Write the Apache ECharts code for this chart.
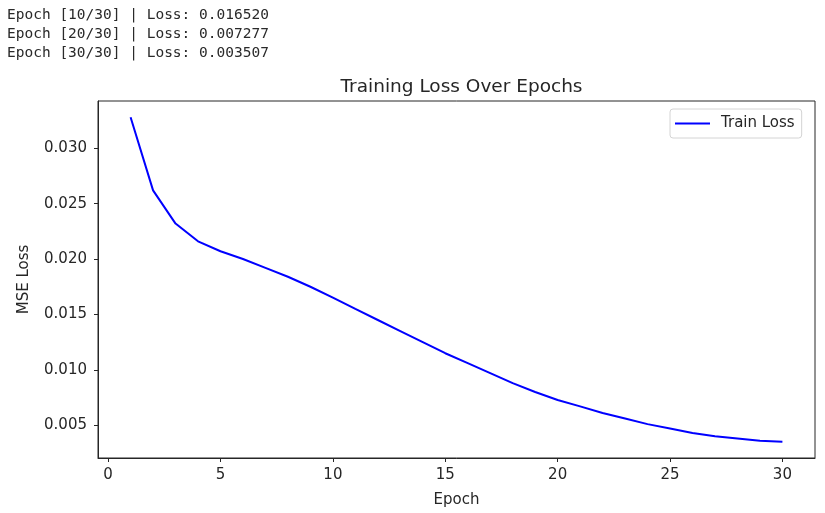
<!DOCTYPE html>
<html>
<head>
<meta charset="utf-8">
<script src="https://cdn.jsdelivr.net/npm/echarts@6/dist/echarts.min.js"></script>
<style>
html,body{margin:0;padding:0;background:#fff;}
#chart{width:825px;height:513px;}
</style>
</head>
<body>
<div id="chart"></div>
<script>
// Data
const epochs = [1,2,3,4,5,6,7,8,9,10,11,12,13,14,15,16,17,18,19,20,21,22,23,24,25,26,27,28,29,30];
const trainLoss = [0.0328,0.0262,0.0232,0.0216,0.0207,0.0200,0.0192,0.0184,0.0175,0.01652,
                   0.0155,0.0145,0.0135,0.0125,0.0115,0.0106,0.0097,0.0088,0.0080,0.007277,
                   0.0067,0.0061,0.0056,0.0051,0.0047,0.0043,0.0040,0.0038,0.0036,0.003507];
const xTicks = [0,5,10,15,20,25,30];
const yTicks = [0.005,0.010,0.015,0.020,0.025,0.030];
const logLines = [
  "Epoch [10/30] | Loss: 0.016520",
  "Epoch [20/30] | Loss: 0.007277",
  "Epoch [30/30] | Loss: 0.003507"
];

// matplotlib-style 5% margins
const xMinD = Math.min(...epochs), xMaxD = Math.max(...epochs);
const yMinD = Math.min(...trainLoss), yMaxD = Math.max(...trainLoss);
const xPad = (xMaxD - xMinD) * 0.05, yPad = (yMaxD - yMinD) * 0.05;

const font = "DejaVu Sans";
const axisColor = "#262626";
const textColor = "#262626";

const chart = echarts.init(document.getElementById('chart'), null, {renderer: 'canvas'});
chart.setOption({
  animation: false,
  backgroundColor: '#ffffff',
  title: {
    text: 'Training Loss Over Epochs',
    left: 456.5, top: 73, textAlign: 'center',
    textStyle: {fontFamily: font, fontSize: 18.5, fontWeight: 'normal', color: textColor}
  },
  graphic: logLines.map((t, i) => ({
    type: 'text', left: 7, top: 8 + i * 19,
    style: {text: t, fontFamily: 'DejaVu Sans Mono', fontSize: 14.5, fill: '#2a2a2a'}
  })),
  legend: {
    data: [{name: 'Train Loss', icon: 'rect'}],
    left: 670, top: 109,
    padding: [7, 7, 7, 5],
    itemWidth: 35, itemHeight: 2,
    itemGap: 0,
    borderColor: '#d4d4d4', borderWidth: 1, borderRadius: 3,
    backgroundColor: 'rgba(255,255,255,0.8)',
    textStyle: {fontFamily: font, fontSize: 15, color: textColor, padding: [0, 0, 0, 6], lineHeight: 15}
  },
  grid: {
    left: 98, right: 10, top: 101, bottom: 55,
    show: true, borderColor: axisColor, borderWidth: 1, containLabel: false
  },
  xAxis: {
    type: 'value',
    min: xMinD - xPad, max: xMaxD + xPad,
    name: 'Epoch', nameLocation: 'middle', nameGap: 35,
    nameTextStyle: {fontFamily: font, fontSize: 15, color: textColor},
    axisLine: {show: true, onZero: false, lineStyle: {color: axisColor, width: 1}},
    axisTick: {show: true, inside: false, length: 4, customValues: xTicks, lineStyle: {color: axisColor}},
    axisLabel: {customValues: xTicks, margin: 10, fontFamily: font, fontSize: 15, color: textColor,
                formatter: v => String(v)},
    splitLine: {show: false}
  },
  yAxis: {
    type: 'value',
    min: yMinD - yPad, max: yMaxD + yPad,
    name: 'MSE Loss', nameLocation: 'middle', nameGap: 66, nameRotate: 90,
    nameTextStyle: {fontFamily: font, fontSize: 15, color: textColor},
    axisLine: {show: true, onZero: false, lineStyle: {color: axisColor, width: 1}},
    axisTick: {show: true, inside: false, length: 4, customValues: yTicks, lineStyle: {color: axisColor}},
    axisLabel: {customValues: yTicks, margin: 11, fontFamily: font, fontSize: 15, color: textColor,
                formatter: v => v.toFixed(3)},
    splitLine: {show: false}
  },
  series: [{
    name: 'Train Loss',
    type: 'line',
    data: epochs.map((e, i) => [e, trainLoss[i]]),
    symbol: 'none',
    lineStyle: {color: '#0000ff', width: 2},
    itemStyle: {color: '#0000ff'}
  }]
});
</script>
</body>
</html>
